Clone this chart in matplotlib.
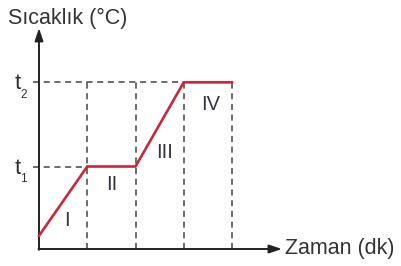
import matplotlib
matplotlib.use("Agg")
import matplotlib.pyplot as plt

plt.rcParams['font.family'] = ['Liberation Sans', 'DejaVu Sans']

# Data
time = [0, 1, 2, 3, 4]
temp = [0.16, 1.0, 1.0, 2.02, 2.02]
level_labels = ["1", "2"]
level_values = [1.0, 2.02]
phase_labels = ["I", "II", "III", "IV"]
phase_pos = [(0.57, 0.345), (1.513, 0.782), (2.60, 1.164), (3.565, 1.75)]
y_title = "Sıcaklık (°C)"
x_title = "Zaman (dk)"

PX_X = 48.25
PX_Y = 82.5

fig = plt.figure(figsize=(4.01, 2.66), dpi=100)
ax = fig.add_axes([0, 0, 1, 1])
ax.set_xlim(-39 / PX_X, (401 - 39) / PX_X)
ax.set_ylim(-(266 - 249) / PX_Y, 249 / PX_Y)
ax.axis('off')

dash_kw = dict(color='#444444', lw=1.1, ls=(0, (4, 3)), zorder=1)
# horizontal dashed guides
ax.plot([-0.12, time[1]], [level_values[0]] * 2, **dash_kw)
ax.plot([-0.12, time[4]], [level_values[1]] * 2, **dash_kw)
# vertical dashed guides
for t in time[1:]:
    ax.plot([t, t], [0, level_values[1]], **dash_kw)

# axes with arrows
arrow = dict(arrowstyle='-|>,head_length=0.75,head_width=0.25', color='#222222', lw=1.4,
             shrinkA=0, shrinkB=0)
ax.annotate('', xy=(0, 221 / PX_Y), xytext=(0, -0.01), arrowprops=arrow)
ax.annotate('', xy=(243 / PX_X, 0), xytext=(-0.01, 0), arrowprops=arrow)

# heating curve
ax.plot(time, temp, color='#c8283c', lw=1.9, solid_joinstyle='miter', zorder=5)

# level labels t1, t2
for sub, v in zip(level_labels, level_values):
    ax.text(-24 / PX_X, v - 1.5 / PX_Y, "t", ha='left', va='center', fontsize=16, color='#333333')
    ax.text(-18.5 / PX_X, v - 7 / PX_Y, sub, ha='left', va='top', fontsize=8.5, color='#333333')

for lab, (x, y) in zip(phase_labels, phase_pos):
    ax.text(x, y, lab, ha='center', va='center', fontsize=14.5, color='#333344')

ax.text(-31 / PX_X, 225 / PX_Y, y_title, ha='left', va='baseline', fontsize=15.5, color='#333333')
ax.text(246 / PX_X, -5 / PX_Y, x_title, ha='left', va='baseline', fontsize=15.5, color='#333333')

fig.savefig('out.png', dpi=100)
